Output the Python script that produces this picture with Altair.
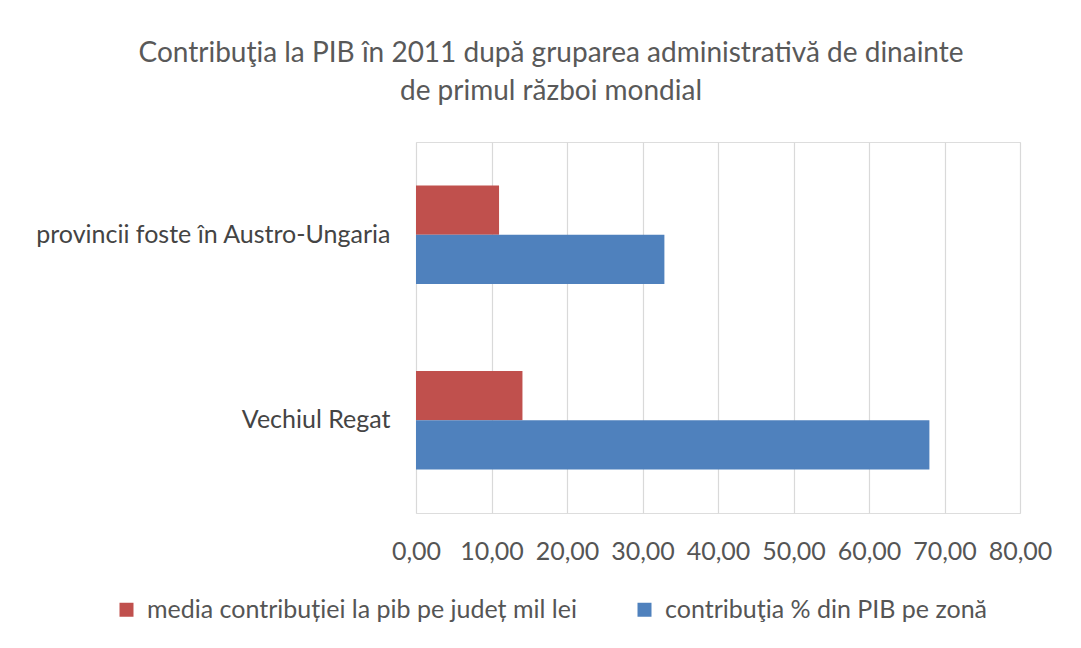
import altair as alt
import pandas as pd

categories = ["provincii foste în Austro-Ungaria", "Vechiul Regat"]
series = ["media contribuției la pib pe județ mil lei", "contribuţia % din PIB pe zonă"]
media_values = [11.0, 14.1]
contrib_values = [32.9, 68.0]
colors = ["#C0504D", "#4F81BD"]
title_lines = ["Contribuţia la PIB în 2011 după gruparea administrativă de dinainte",
               "de primul război mondial"]
x_ticks = [0, 10, 20, 30, 40, 50, 60, 70, 80]

rows = []
for i, c in enumerate(categories):
    rows.append({"cat": c, "serie": series[0], "val": media_values[i]})
    rows.append({"cat": c, "serie": series[1], "val": contrib_values[i]})
df = pd.DataFrame(rows)

FONT = "Lato"

chart = alt.Chart(df).mark_bar().encode(
    y=alt.Y("cat:N", sort=categories, title=None,
            scale=alt.Scale(paddingInner=0.47, paddingOuter=0.235),
            axis=alt.Axis(domain=False, ticks=False, labelFontSize=25,
                          labelColor="#444444", labelPadding=26, labelFont=FONT,
                          labelLimit=500)),
    yOffset=alt.YOffset("serie:N", sort=series, scale=alt.Scale(paddingInner=0, paddingOuter=0)),
    x=alt.X("val:Q", title=None,
            scale=alt.Scale(domain=[0, 80], nice=False),
            axis=alt.Axis(values=x_ticks, domain=False, ticks=False, grid=True,
                          gridColor="#d9d9d9", gridWidth=1.2, labelOverlap=False,
                          labelFlush=False,
                          labelExpr="replace(format(datum.value, '.2f'), '.', ',')",
                          labelFontSize=25, labelColor="#555555", labelPadding=26,
                          labelFont=FONT)),
    color=alt.Color("serie:N", sort=series,
                    scale=alt.Scale(domain=series, range=colors),
                    legend=alt.Legend(title=None, orient="none", direction="horizontal",
                                      legendX=-302, legendY=455,
                                      symbolType="square", symbolSize=196,
                                      symbolStrokeWidth=0,
                                      labelFontSize=25, labelColor="#555555",
                                      labelFont=FONT, labelLimit=700,
                                      columnPadding=55, labelOffset=8)),
).properties(
    width=604,
    height=371,
    padding={"left": 408, "top": 134, "right": 53, "bottom": 127},
    autosize=alt.AutoSizeParams(type="none"),
    title=alt.TitleParams(title_lines, anchor="middle", dx=-167, fontSize=28,
                          font=FONT, fontWeight="normal", color="#595959",
                          lineHeight=38, offset=36),
).configure_view(stroke=None).configure(background="white")

chart.save("out.html", embed_options={"renderer": "svg", "actions": False})
